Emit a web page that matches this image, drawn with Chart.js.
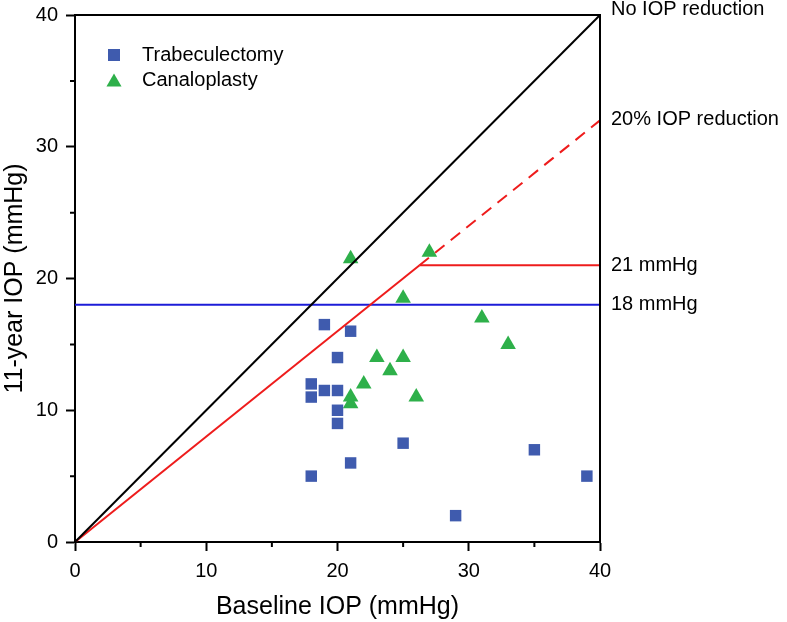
<!DOCTYPE html>
<html>
<head>
<meta charset="utf-8">
<script src="https://cdn.jsdelivr.net/npm/chart.js@4.4.1/dist/chart.umd.min.js"></script>
<style>
  html, body { margin: 0; padding: 0; background: #fff; }
</style>
</head>
<body>
<canvas id="graficoIOP" width="787" height="622"></canvas>
<script>
// datos
const trabX = [18, 18, 18, 19, 19, 20, 20, 20, 20, 21, 21, 25, 29, 35, 39];
const trabY = [5, 11, 12, 11.5, 16.5, 14, 11.5, 10, 9, 16, 6, 7.5, 2, 7, 5];

const canalX = [21, 21, 21, 22, 23, 24, 25, 25, 26, 27, 31, 33];
const canalY = [21.5, 11, 10.5, 12, 14, 13, 14, 18.5, 11, 22, 17, 15];

// líneas de referencia
const diagX = [0, 40], diagY = [0, 40];
const red20X = [0, 26.25], red20Y = [0, 21];
const dash20X = [26.25, 40], dash20Y = [21, 32];
const lim21X = [26.25, 40], lim21Y = [21, 21];
const lim18X = [0, 40], lim18Y = [18, 18];

const xTicks = [0, 10, 20, 30, 40];
const yTicks = [0, 10, 20, 30, 40];
const minorTicks = [5, 15, 25, 35];

const refLabels = ["No IOP reduction", "20% IOP reduction", "21 mmHg", "18 mmHg"];
const refLabelY = [40.45, 32.1, 21, 18];

const toPts = (xs, ys) => xs.map((x, i) => ({ x: x, y: ys[i] }));

const FONT = "'Liberation Sans', Arial, sans-serif";
const BLUE = "#3f5bae";
const GREEN = "#2eb04a";

// marco superior/derecho + ticks menores + etiquetas de la derecha + leyenda
const extras = {
  id: "extras",
  afterDraw(chart) {
    const { ctx, chartArea: a, scales } = chart;
    const xs = scales.x, ys = scales.y;
    ctx.save();
    ctx.strokeStyle = "#000";
    ctx.lineWidth = 2;
    ctx.beginPath();
    ctx.moveTo(a.left - 1, a.top);
    ctx.lineTo(a.right, a.top);
    ctx.lineTo(a.right, a.bottom + 1);
    ctx.stroke();

    minorTicks.forEach(v => {
      const px = xs.getPixelForValue(v);
      const py = ys.getPixelForValue(v);
      ctx.beginPath();
      ctx.moveTo(px, a.bottom);
      ctx.lineTo(px, a.bottom + 5);
      ctx.moveTo(a.left, py);
      ctx.lineTo(a.left - 5, py);
      ctx.stroke();
    });

    ctx.fillStyle = "#000";
    ctx.font = "20px " + FONT;
    ctx.textBaseline = "middle";
    ctx.textAlign = "left";
    refLabels.forEach((t, i) => {
      ctx.fillText(t, a.right + 11, ys.getPixelForValue(refLabelY[i]));
    });

    // leyenda
    const lx = a.left + 39;
    const ly1 = a.top + 40, ly2 = a.top + 65;
    ctx.fillStyle = BLUE;
    ctx.fillRect(lx - 6, ly1 - 6, 12, 12);
    ctx.fillStyle = GREEN;
    const r = 8.7;
    ctx.beginPath();
    ctx.moveTo(lx, ly2 - r * 0.75);
    ctx.lineTo(lx + r * 0.866, ly2 + r * 0.75);
    ctx.lineTo(lx - r * 0.866, ly2 + r * 0.75);
    ctx.closePath();
    ctx.fill();
    ctx.fillStyle = "#000";
    ctx.fillText(chart.data.datasets[0].label, lx + 28, ly1);
    ctx.fillText(chart.data.datasets[1].label, lx + 28, ly2);
    ctx.restore();
  }
};

const lineSet = (label, pts, color, dash) => ({
  type: "line",
  label: label,
  data: pts,
  borderColor: color,
  borderWidth: 2,
  borderDash: dash || [],
  pointRadius: 0,
  fill: false,
  tension: 0,
  order: 1
});

new Chart(document.getElementById("graficoIOP"), {
  type: "scatter",
  data: {
    datasets: [
      {
        label: "Trabeculectomy",
        data: toPts(trabX, trabY),
        pointStyle: "rect",
        pointRadius: 8.1,
        backgroundColor: BLUE,
        borderColor: BLUE,
        borderWidth: 0,
        order: 2
      },
      {
        label: "Canaloplasty",
        data: toPts(canalX, canalY),
        pointStyle: "triangle",
        pointRadius: 9,
        backgroundColor: GREEN,
        borderColor: GREEN,
        borderWidth: 0,
        order: 2
      },
      lineSet("No IOP reduction", toPts(diagX, diagY), "#000"),
      lineSet("20% IOP reduction", toPts(red20X, red20Y), "#ee1c1c"),
      lineSet("20% IOP reduction (dashed)", toPts(dash20X, dash20Y), "#ee1c1c", [12, 8]),
      lineSet("21 mmHg", toPts(lim21X, lim21Y), "#ee1c1c"),
      lineSet("18 mmHg", toPts(lim18X, lim18Y), "#1c1cd8")
    ]
  },
  options: {
    responsive: false,
    animation: false,
    layout: { padding: { left: 0, top: 15, right: 187, bottom: 0 } },
    plugins: {
      legend: { display: false },
      tooltip: { enabled: false }
    },
    scales: {
      x: {
        type: "linear",
        min: 0,
        max: 40,
        afterFit(s) { s.height = 80; s.paddingLeft = 0; s.paddingRight = 0; },
        afterBuildTicks(s) { s.ticks = xTicks.map(v => ({ value: v })); },
        border: { color: "#000", width: 2 },
        grid: { drawOnChartArea: false, tickLength: 9, tickWidth: 2, tickColor: "#000" },
        ticks: { color: "#000", padding: 8, font: { family: FONT, size: 20 } },
        title: {
          display: true,
          text: "Baseline IOP (mmHg)",
          color: "#000",
          padding: { top: 0, bottom: 0 },
          font: { family: FONT, size: 25 }
        }
      },
      y: {
        type: "linear",
        min: 0,
        max: 40,
        afterFit(s) { s.width = 75; s.paddingTop = 0; s.paddingBottom = 0; },
        afterBuildTicks(s) { s.ticks = yTicks.map(v => ({ value: v })); },
        border: { color: "#000", width: 2 },
        grid: { drawOnChartArea: false, tickLength: 9, tickWidth: 2, tickColor: "#000" },
        ticks: { color: "#000", padding: 8, font: { family: FONT, size: 20 } },
        title: {
          display: true,
          text: "11-year IOP (mmHg)",
          color: "#000",
          padding: { top: 0, bottom: 0 },
          font: { family: FONT, size: 25 }
        }
      }
    }
  },
  plugins: [extras]
});
</script>
</body>
</html>
